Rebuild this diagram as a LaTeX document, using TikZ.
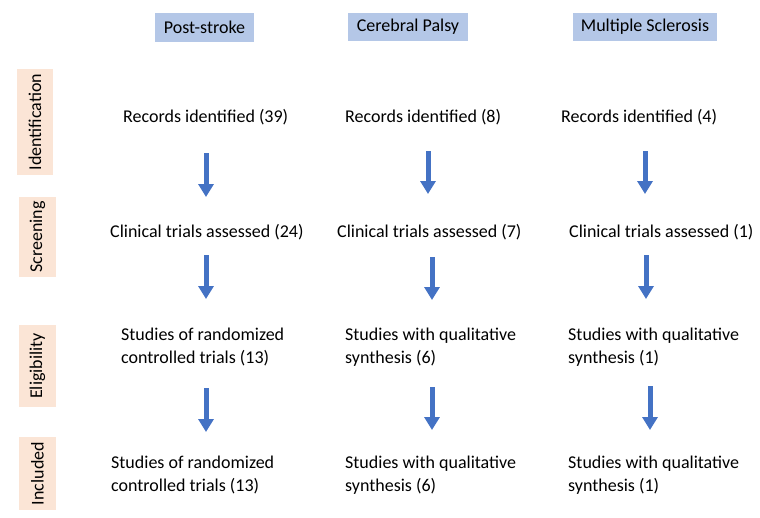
\documentclass[tikz,border=0pt]{standalone}
\usepackage{fontspec}
\setmainfont{Carlito}
\usetikzlibrary{arrows.meta}
\definecolor{hdrblue}{HTML}{B4C7E7}
\definecolor{peach}{HTML}{FBE5D6}
\definecolor{arrblue}{HTML}{4472C4}
\begin{document}
\begin{tikzpicture}[x=1pt,y=-1pt,
  txt/.style={anchor=base west,inner sep=0pt,align=left,font=\fontsize{18}{23}\selectfont},
  hdr/.style={fill=hdrblue,inner sep=0pt,font=\fontsize{18}{22}\selectfont},
  side/.style={fill=peach,inner sep=0pt,font=\fontsize{18}{22}\selectfont},
  bigarrow/.style={draw=arrblue,line width=5pt,-{Triangle[width=15pt,length=13pt]},arrblue}]
\path[use as bounding box] (0,0) rectangle (760,517);
% headers
\node[hdr,minimum width=99pt,minimum height=29pt] (h1) at (204.5,27.5) {Post-stroke};
\node[hdr,minimum width=120pt,minimum height=28pt] (h2) at (408,27) {Cerebral Palsy};
\node[hdr,minimum width=144pt,minimum height=28pt] (h3) at (645,27) {Multiple Sclerosis};
% side labels
\node[side,minimum width=106pt,minimum height=36pt,rotate=90] (s1) at (35,122) {Identification};
\node[side,minimum width=80pt,minimum height=37pt,rotate=90] (s2) at (37.5,237) {Screening};
\node[side,minimum width=82pt,minimum height=37pt,rotate=90] (s3) at (37.5,366) {Eligibility};
\node[side,minimum width=73pt,minimum height=37pt,rotate=90] (s4) at (37.5,473.5) {Included};
% row 1
\node[txt] (r1a) at (123,122) {Records identified (39)};
\node[txt] (r1b) at (345,122) {Records identified (8)};
\node[txt] (r1c) at (561,122) {Records identified (4)};
% row 2
\node[txt] (r2a) at (110,237) {Clinical trials assessed (24)};
\node[txt] (r2b) at (337,237) {Clinical trials assessed (7)};
\node[txt] (r2c) at (569,237) {Clinical trials assessed (1)};
% row 3 (base anchor = last line baseline)
\node[txt] (r3a) at (121,363) {Studies of randomized\\controlled trials (13)};
\node[txt] (r3b) at (345,363) {Studies with qualitative\\synthesis (6)};
\node[txt] (r3c) at (568,363) {Studies with qualitative\\synthesis (1)};
% row 4
\node[txt] (r4a) at (111,491) {Studies of randomized\\controlled trials (13)};
\node[txt] (r4b) at (345,491) {Studies with qualitative\\synthesis (6)};
\node[txt] (r4c) at (568,491) {Studies with qualitative\\synthesis (1)};
% arrow end points
\coordinate (a1s) at (206,153); \coordinate (a1e) at (206,197);
\coordinate (a2s) at (428,151); \coordinate (a2e) at (428,194);
\coordinate (a3s) at (645,151); \coordinate (a3e) at (645,194);
\coordinate (a4s) at (206,255); \coordinate (a4e) at (206,299);
\coordinate (a5s) at (432,257); \coordinate (a5e) at (432,300);
\coordinate (a6s) at (646,255); \coordinate (a6e) at (646,299);
\coordinate (a7s) at (206,388); \coordinate (a7e) at (206,432);
\coordinate (a8s) at (432,387); \coordinate (a8e) at (432,430);
\coordinate (a9s) at (650,386); \coordinate (a9e) at (650,430);
\foreach \i in {1,...,9} {\draw[bigarrow] (a\i s) -- (a\i e);}
\end{tikzpicture}
\end{document}
